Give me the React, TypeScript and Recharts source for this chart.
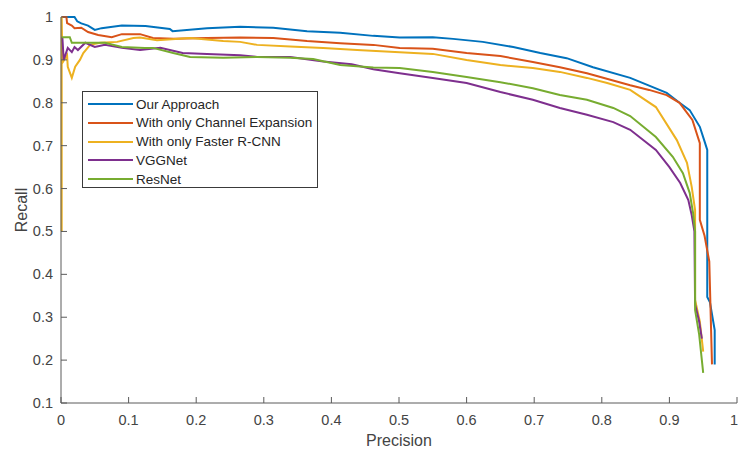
import { Label, Line, LineChart, XAxis, YAxis } from "recharts";

const seriesNames = [
  "Our Approach",
  "With only Channel Expansion",
  "With only Faster R-CNN",
  "VGGNet",
  "ResNet",
];
const seriesColors = ["#0072BD", "#D95319", "#EDB120", "#7E2F8E", "#77AC30"];

const xTicks = [0, 0.1, 0.2, 0.3, 0.4, 0.5, 0.6, 0.7, 0.8, 0.9, 1];
const yTicks = [0.1, 0.2, 0.3, 0.4, 0.5, 0.6, 0.7, 0.8, 0.9, 1];

// precision / recall pairs
const ourP = [0.001, 0.02, 0.024, 0.03, 0.04, 0.05, 0.06, 0.09, 0.125, 0.161, 0.165, 0.216, 0.265, 0.314, 0.364, 0.413, 0.462, 0.501, 0.55, 0.58, 0.624, 0.669, 0.709, 0.748, 0.787, 0.842, 0.87, 0.896, 0.915, 0.93, 0.945, 0.952, 0.956, 0.956, 0.96, 0.967, 0.967];
const ourR = [1, 1, 0.99, 0.985, 0.98, 0.97, 0.974, 0.98, 0.979, 0.972, 0.967, 0.974, 0.977, 0.975, 0.967, 0.963, 0.956, 0.952, 0.953, 0.949, 0.942, 0.93, 0.916, 0.904, 0.883, 0.858, 0.84, 0.823, 0.8, 0.783, 0.744, 0.71, 0.69, 0.347, 0.335, 0.27, 0.19];

const chanP = [0.001, 0.008, 0.009, 0.016, 0.02, 0.03, 0.04, 0.055, 0.075, 0.09, 0.117, 0.136, 0.166, 0.216, 0.265, 0.314, 0.364, 0.413, 0.462, 0.501, 0.55, 0.6, 0.65, 0.698, 0.738, 0.778, 0.842, 0.87, 0.896, 0.915, 0.934, 0.945, 0.945, 0.952, 0.959, 0.963];
const chanR = [1, 1, 0.986, 0.98, 0.974, 0.975, 0.965, 0.958, 0.953, 0.96, 0.96, 0.951, 0.949, 0.951, 0.952, 0.951, 0.944, 0.939, 0.935, 0.928, 0.926, 0.916, 0.909, 0.895, 0.883, 0.869, 0.841, 0.83, 0.818, 0.8, 0.76, 0.706, 0.527, 0.49, 0.43, 0.19];

const frcnnP = [0.001, 0.001, 0.002, 0.009, 0.01, 0.016, 0.021, 0.028, 0.033, 0.043, 0.058, 0.083, 0.107, 0.117, 0.142, 0.191, 0.24, 0.265, 0.29, 0.339, 0.388, 0.438, 0.501, 0.55, 0.6, 0.65, 0.698, 0.738, 0.778, 0.808, 0.842, 0.88, 0.911, 0.926, 0.933, 0.938, 0.938, 0.945, 0.95];
const frcnnR = [0.5, 1, 0.893, 0.911, 0.884, 0.858, 0.884, 0.9, 0.916, 0.935, 0.94, 0.942, 0.951, 0.952, 0.946, 0.951, 0.944, 0.942, 0.935, 0.931, 0.928, 0.923, 0.918, 0.914, 0.9, 0.888, 0.881, 0.872, 0.858, 0.846, 0.83, 0.79, 0.713, 0.66, 0.604, 0.55, 0.34, 0.29, 0.22];

const vggP = [0.002, 0.004, 0.01, 0.016, 0.02, 0.025, 0.036, 0.05, 0.065, 0.09, 0.117, 0.147, 0.18, 0.216, 0.265, 0.29, 0.339, 0.388, 0.43, 0.462, 0.501, 0.55, 0.6, 0.65, 0.698, 0.738, 0.778, 0.817, 0.842, 0.88, 0.9, 0.916, 0.928, 0.933, 0.937, 0.938, 0.944, 0.948];
const vggR = [0.953, 0.9, 0.928, 0.918, 0.93, 0.923, 0.94, 0.93, 0.935, 0.928, 0.923, 0.928, 0.916, 0.914, 0.911, 0.907, 0.907, 0.896, 0.89, 0.878, 0.869, 0.858, 0.846, 0.825, 0.807, 0.788, 0.772, 0.755, 0.737, 0.69, 0.65, 0.613, 0.573, 0.538, 0.5, 0.33, 0.29, 0.25];

const resP = [0.001, 0.013, 0.016, 0.04, 0.065, 0.09, 0.124, 0.136, 0.166, 0.191, 0.24, 0.29, 0.339, 0.373, 0.413, 0.462, 0.501, 0.55, 0.6, 0.65, 0.698, 0.738, 0.778, 0.817, 0.842, 0.88, 0.905, 0.92, 0.93, 0.935, 0.938, 0.938, 0.944, 0.95];
const resR = [0.953, 0.953, 0.94, 0.94, 0.94, 0.93, 0.928, 0.928, 0.916, 0.907, 0.905, 0.907, 0.905, 0.902, 0.888, 0.882, 0.881, 0.872, 0.86, 0.848, 0.834, 0.818, 0.807, 0.788, 0.769, 0.72, 0.674, 0.636, 0.59, 0.543, 0.5, 0.317, 0.26, 0.17];

const zip = (p: number[], r: number[]) => p.map((v, i) => ({ p: v, r: r[i] }));

const series = [
  zip(ourP, ourR),
  zip(chanP, chanR),
  zip(frcnnP, frcnnR),
  zip(vggP, vggR),
  zip(resP, resR),
];

const font = "'Liberation Sans', Arial, sans-serif";
const axisColor = "#5a5a5a";
const textColor = "#444444";

const fmt = (v: number) => String(Math.round(v * 10) / 10);

const XTick = ({ x, y, payload }: any) => {
  // last label sits at the right edge of the figure, keep it inside
  const last = payload.value === 1;
  return (
    <g>
      <line x1={x} y1={y} x2={x} y2={y - 6} stroke={axisColor} />
      <text
        x={last ? x + 1 : x}
        y={y + 22}
        textAnchor={last ? "end" : "middle"}
        fill={textColor}
        fontSize={14.5}
        fontFamily={font}
      >
        {fmt(payload.value)}
      </text>
    </g>
  );
};

const YTick = ({ x, y, payload }: any) => (
  <g>
    <line x1={x} y1={y} x2={x + 6} y2={y} stroke={axisColor} />
    <text x={x - 8} y={y + 5} textAnchor="end" fill={textColor} fontSize={14.5} fontFamily={font}>
      {fmt(payload.value)}
    </text>
  </g>
);

const LegendBox = () => (
  <div
    style={{
      position: "absolute",
      left: 82,
      top: 91,
      width: 234,
      height: 95,
      border: "1px solid #3a3a3a",
      background: "#fff",
      fontFamily: font,
      fontSize: 13.5,
      color: "#262626",
    }}
  >
    {seriesNames.map((name, i) => (
      <div
        key={name}
        style={{
          position: "absolute",
          left: 5,
          top: 3 + i * 18.75,
          height: 18,
          display: "flex",
          alignItems: "center",
          whiteSpace: "nowrap",
        }}
      >
        <span style={{ width: 45, height: 2, background: seriesColors[i], marginRight: 3 }} />
        {name}
      </div>
    ))}
  </div>
);

export default function App() {
  return (
    <div style={{ position: "absolute", left: 0, top: 0, width: 738, height: 452, background: "#fff" }}>
      <LineChart width={738} height={452} margin={{ top: 17, right: 1, left: 0, bottom: 0 }}>
        <XAxis
          type="number"
          dataKey="p"
          domain={[0, 1]}
          ticks={xTicks}
          height={49}
          tickSize={0}
          tickMargin={0}
          tickLine={false}
          stroke={axisColor}
          tick={<XTick />}
          interval={0}
        >
          <Label
            content={({ viewBox }: any) => (
              <text
                x={viewBox.x + viewBox.width / 2}
                y={446}
                textAnchor="middle"
                fill={textColor}
                fontSize={16}
                fontFamily={font}
              >
                Precision
              </text>
            )}
          />
        </XAxis>
        <YAxis
          type="number"
          domain={[0.1, 1]}
          ticks={yTicks}
          width={61}
          tickSize={0}
          tickMargin={0}
          tickLine={false}
          stroke={axisColor}
          tick={<YTick />}
          interval={0}
        >
          <Label
            content={({ viewBox }: any) => (
              <text
                transform={`translate(27, ${viewBox.y + viewBox.height / 2}) rotate(-90)`}
                textAnchor="middle"
                fill={textColor}
                fontSize={16}
                fontFamily={font}
              >
                Recall
              </text>
            )}
          />
        </YAxis>
        {series.map((d, i) => (
          <Line
            key={seriesNames[i]}
            data={d}
            dataKey="r"
            name={seriesNames[i]}
            type="linear"
            stroke={seriesColors[i]}
            strokeWidth={2}
            dot={false}
            isAnimationActive={false}
          />
        ))}
      </LineChart>
      <LegendBox />
    </div>
  );
}
